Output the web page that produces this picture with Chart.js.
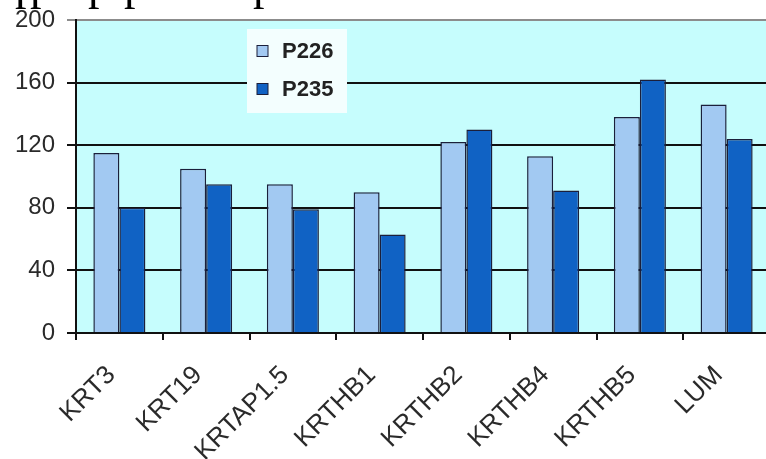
<!DOCTYPE html>
<html>
<head>
<meta charset="utf-8">
<script src="https://cdn.jsdelivr.net/npm/chart.js@4"></script>
<style>
  html, body { margin: 0; padding: 0; background: #fff; overflow: hidden; width: 766px; height: 459px; }
  #wrap { position: relative; width: 772px; height: 459px; }
  canvas { position: absolute; left: 0; top: 0; }
  .cut { position: absolute; top: -39px; font: 46px "Liberation Serif"; line-height: 46px; color: #000; }
</style>
</head>
<body>
<div id="wrap">
  <canvas id="chart" width="772" height="459"></canvas>
  <span class="cut" style="left:15px">p</span>
  <span class="cut" style="left:30px">p</span>
  <span class="cut" style="left:88px">p</span>
  <span class="cut" style="left:124px">p</span>
  <span class="cut" style="left:253px">p</span>
</div>
<script>
/* Data. */
const genes = ["KRT3", "KRT19", "KRTAP1.5", "KRTHB1", "KRTHB2", "KRTHB4", "KRTHB5", "LUM"]
const p226 = [115, 105, 95, 90, 122, 113, 138, 146]
const p235 = [80, 95, 79, 63, 130, 91, 162, 124]
const yTicks = [0, 40, 80, 120, 160, 200]

const lightBlue = "#a2c9f2"
const darkBlue = "#1062c4"

/* White page and cyan plot area. */
const background = {
  id: "background",
  beforeDraw: chart => {
    const { ctx, chartArea } = chart
    ctx.save()
    ctx.fillStyle = "#ffffff"
    ctx.fillRect(0, 0, chart.width, chart.height)
    ctx.fillStyle = "#c6fdfd"
    ctx.fillRect(chartArea.left, chartArea.top, chartArea.right - chartArea.left, chartArea.bottom - chartArea.top)
    ctx.restore()
  }
}

/* Legend box inside the plot. */
const boxLegend = {
  id: "boxLegend",
  afterDatasetsDraw: chart => {
    const { ctx, chartArea } = chart
    const x = chartArea.left + 171
    const y = chartArea.top + 9
    ctx.save()
    ctx.fillStyle = "#f3fefe"
    ctx.fillRect(x, y, 100, 84)
    chart.data.datasets.forEach((ds, i) => {
      const cy = y + 22 + i * 38
      ctx.fillStyle = ds.backgroundColor
      ctx.fillRect(x + 10, cy - 5.5, 11, 11)
      ctx.strokeStyle = "#1b1f3b"
      ctx.lineWidth = 1
      ctx.strokeRect(x + 10, cy - 5.5, 11, 11)
      ctx.fillStyle = "#222"
      ctx.font = "bold 22px 'Liberation Sans'"
      ctx.textBaseline = "middle"
      ctx.fillText(ds.label, x + 35, cy + 1)
    })
    ctx.restore()
  }
}

const ctx = document.getElementById("chart").getContext("2d")
const chart = new Chart(ctx, {
  type: "bar",
  data: {
    labels: genes,
    datasets: [{
      label: "P226",
      data: p226,
      backgroundColor: lightBlue,
      borderColor: "#1b1f3b",
      borderWidth: 1.5
    }, {
      label: "P235",
      data: p235,
      backgroundColor: darkBlue,
      borderColor: "#1b1f3b",
      borderWidth: 1.5
    }]
  },
  options: {
    responsive: false,
    animation: false,
    devicePixelRatio: 1,
    categoryPercentage: 0.6,
    barPercentage: 1.0,
    layout: { padding: { left: 0, top: 20, right: 2, bottom: 0 } },
    plugins: {
      legend: { display: false },
      tooltip: { enabled: false }
    },
    scales: {
      x: {
        afterFit: scale => { scale.height = 126 },
        grid: {
          offset: true,
          drawOnChartArea: false,
          drawTicks: true,
          tickLength: 7,
          color: "#111",
          lineWidth: 2
        },
        border: { display: true, color: "#111", width: 2 },
        ticks: {
          maxRotation: 45,
          minRotation: 45,
          padding: 20,
          labelOffset: -8,
          color: "#2a2a2a",
          font: { family: "'Liberation Sans'", size: 26 }
        }
      },
      y: {
        min: 0,
        max: 200,
        afterFit: scale => {
          scale.width = 76
          scale.paddingTop = 0
          scale.paddingBottom = 0
        },
        afterBuildTicks: scale => { scale.ticks = yTicks.map(v => ({ value: v })) },
        grid: {
          drawTicks: true,
          tickLength: 9,
          lineWidth: 2,
          color: c => c.tick && c.tick.value === 200 ? "#8c8c8c" : "#111"
        },
        border: { display: true, color: "#111", width: 2 },
        ticks: {
          padding: 12,
          color: "#2a2a2a",
          font: { family: "'Liberation Sans'", size: 24 }
        }
      }
    }
  },
  plugins: [background, boxLegend]
})
</script>
</body>
</html>
